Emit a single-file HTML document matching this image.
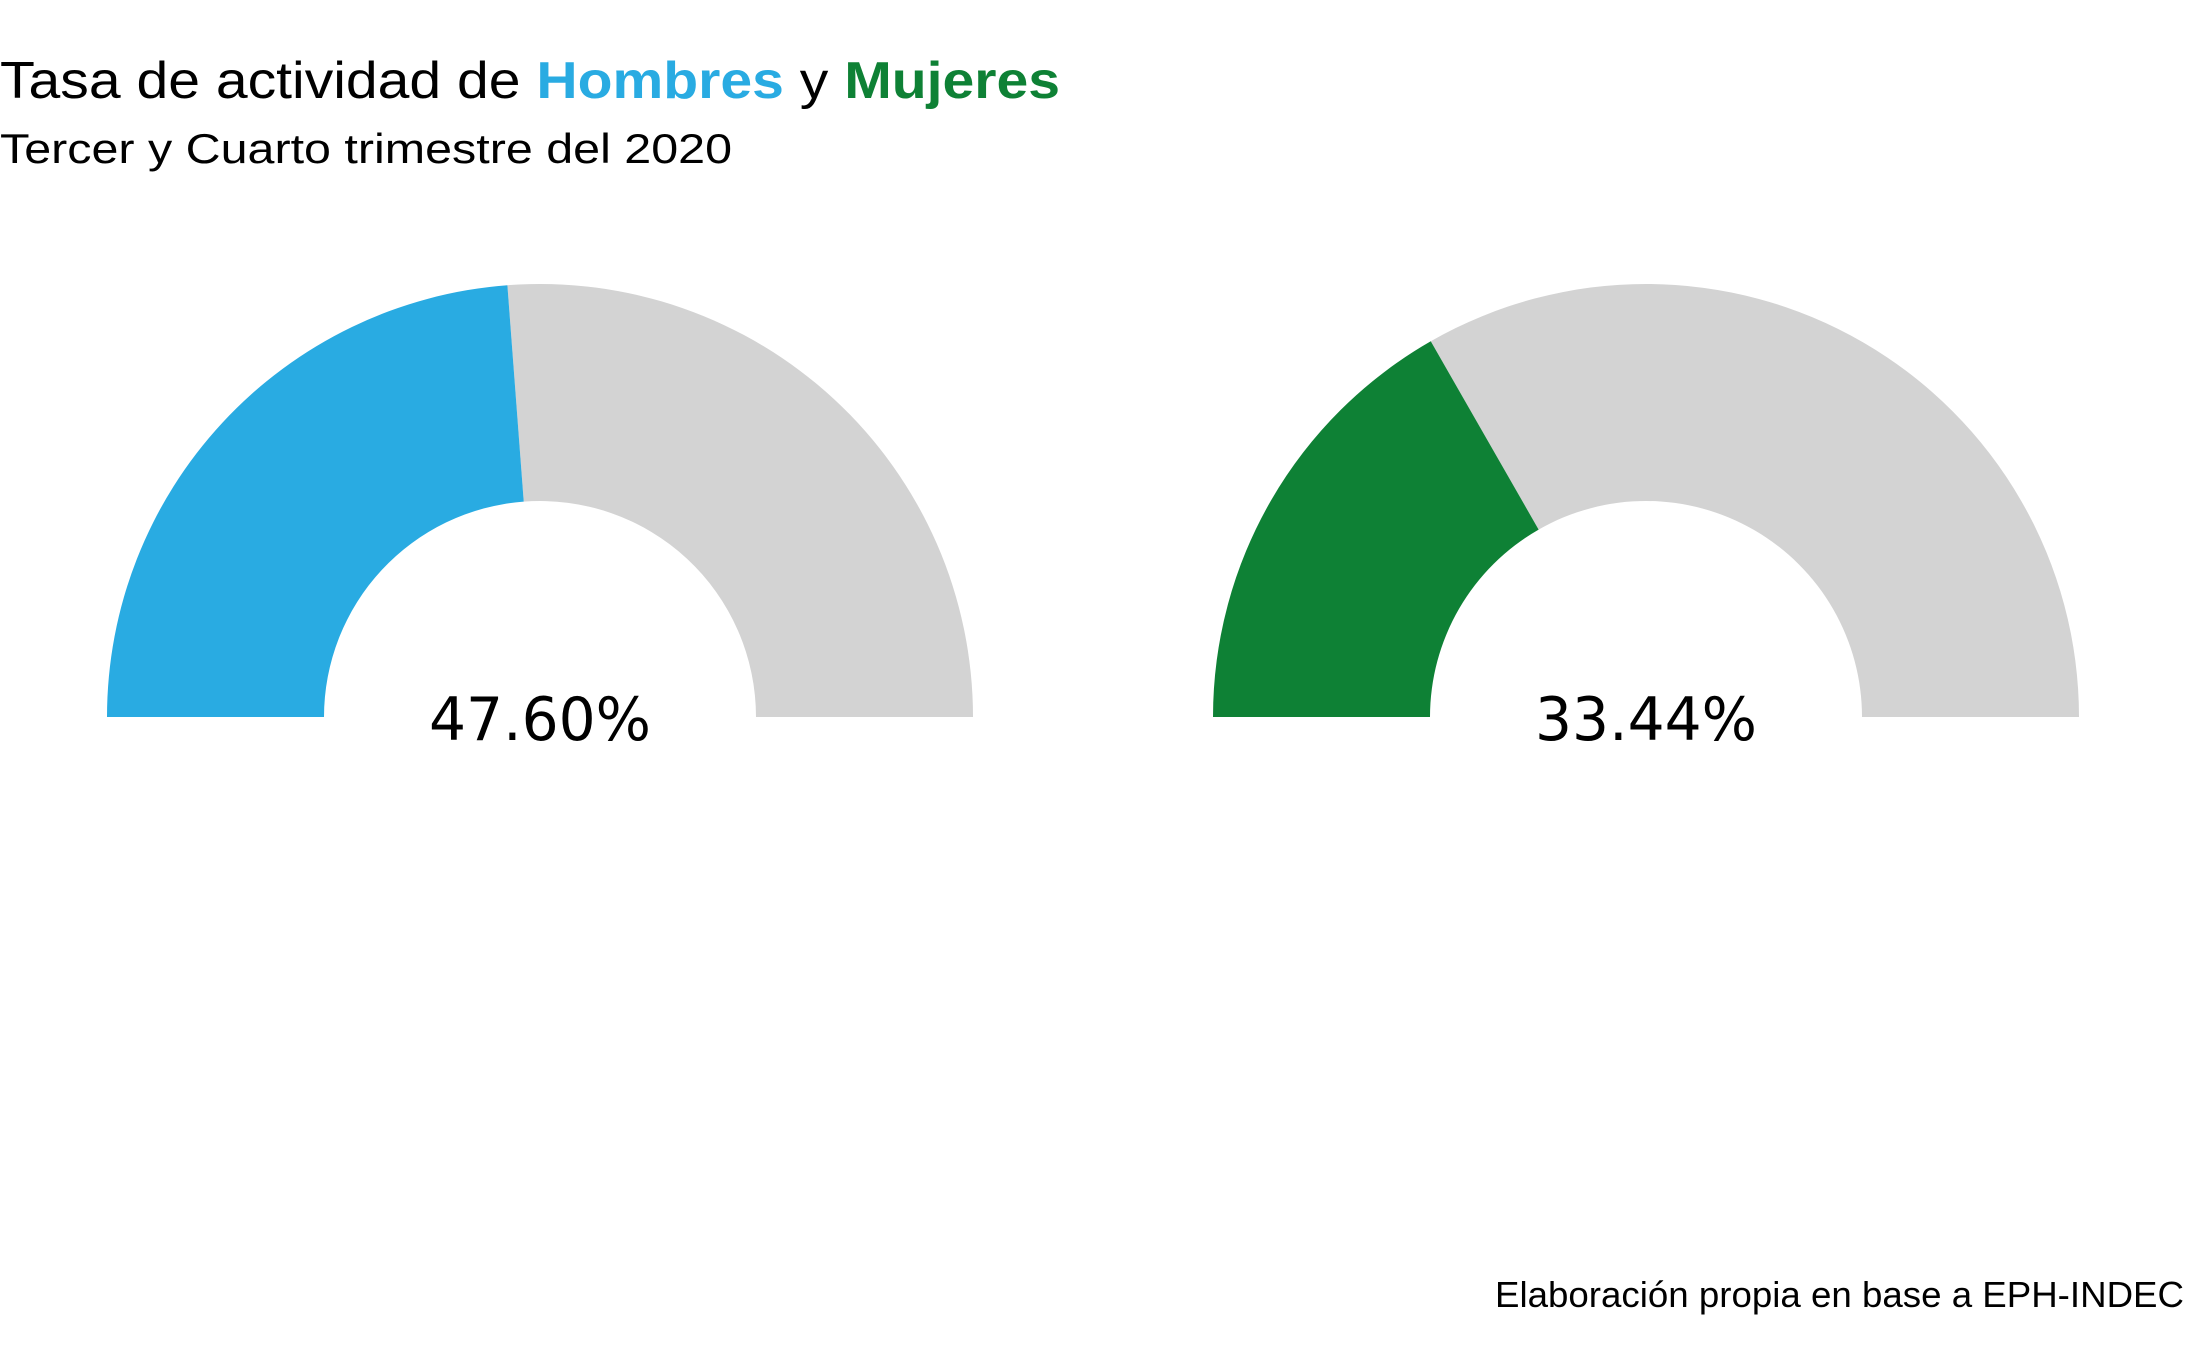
<!DOCTYPE html>
<html><head><meta charset="utf-8"><style>
html,body{margin:0;padding:0;background:#fff;}
svg{display:block;}
</style></head><body>
<svg id="chart" width="2187" height="1350" viewBox="0 0 2187 1350" xmlns="http://www.w3.org/2000/svg">
  <text x="0" y="98" font-family="Liberation Sans, sans-serif" font-size="52" fill="#000" textLength="1060" lengthAdjust="spacingAndGlyphs">Tasa de actividad de <tspan fill="#29abe2" font-weight="bold">Hombres</tspan> y <tspan fill="#0e8135" font-weight="bold">Mujeres</tspan></text>
  <text x="0" y="163" font-family="Liberation Sans, sans-serif" font-size="42" fill="#000" textLength="732" lengthAdjust="spacingAndGlyphs">Tercer y Cuarto trimestre del 2020</text>
  <text x="2184" y="1307" text-anchor="end" font-family="Liberation Sans, sans-serif" font-size="36" fill="#000" textLength="689" lengthAdjust="spacingAndGlyphs">Elaboración propia en base a EPH-INDEC</text>
  <g id="gauges"></g>
</svg>
<script>
const categories = ["Hombres", "Mujeres"];
const values = [47.60, 33.44];
const colors = ["#29abe2", "#0e8135"];
const labels = ["47.60%", "33.44%"];

const NS = "http://www.w3.org/2000/svg";
const g = document.getElementById("gauges");
const centersX = [540, 1646];
const cy = 717, R = 433, r = 216;
function pt(rad, frac) {
  const a = Math.PI * (1 - frac);
  return [Math.cos(a) * rad, -Math.sin(a) * rad];
}
function arcPath(cx, f0, f1) {
  const [x0, y0] = pt(R, f0), [x1, y1] = pt(R, f1);
  const [x2, y2] = pt(r, f1), [x3, y3] = pt(r, f0);
  return `M${cx + x0},${cy + y0} A${R},${R} 0 0 1 ${cx + x1},${cy + y1} L${cx + x2},${cy + y2} A${r},${r} 0 0 0 ${cx + x3},${cy + y3} Z`;
}
categories.forEach((c, i) => {
  const cx = centersX[i];
  const f = values[i] / 100;
  const bg = document.createElementNS(NS, "path");
  bg.setAttribute("d", arcPath(cx, f, 1));
  bg.setAttribute("fill", "#d3d3d3");
  
  
  g.appendChild(bg);
  const fg = document.createElementNS(NS, "path");
  fg.setAttribute("d", arcPath(cx, 0, f));
  fg.setAttribute("fill", colors[i]);
  
  
  g.appendChild(fg);
  const t = document.createElementNS(NS, "text");
  t.setAttribute("x", cx);
  t.setAttribute("y", 740);
  t.setAttribute("text-anchor", "middle");
  t.setAttribute("font-family", "DejaVu Sans, sans-serif");
  t.setAttribute("font-size", "60");
  t.setAttribute("textLength", "222");
  t.setAttribute("lengthAdjust", "spacingAndGlyphs");
  t.textContent = labels[i];
  
  
  g.appendChild(t);
});
</script>
</body></html>
